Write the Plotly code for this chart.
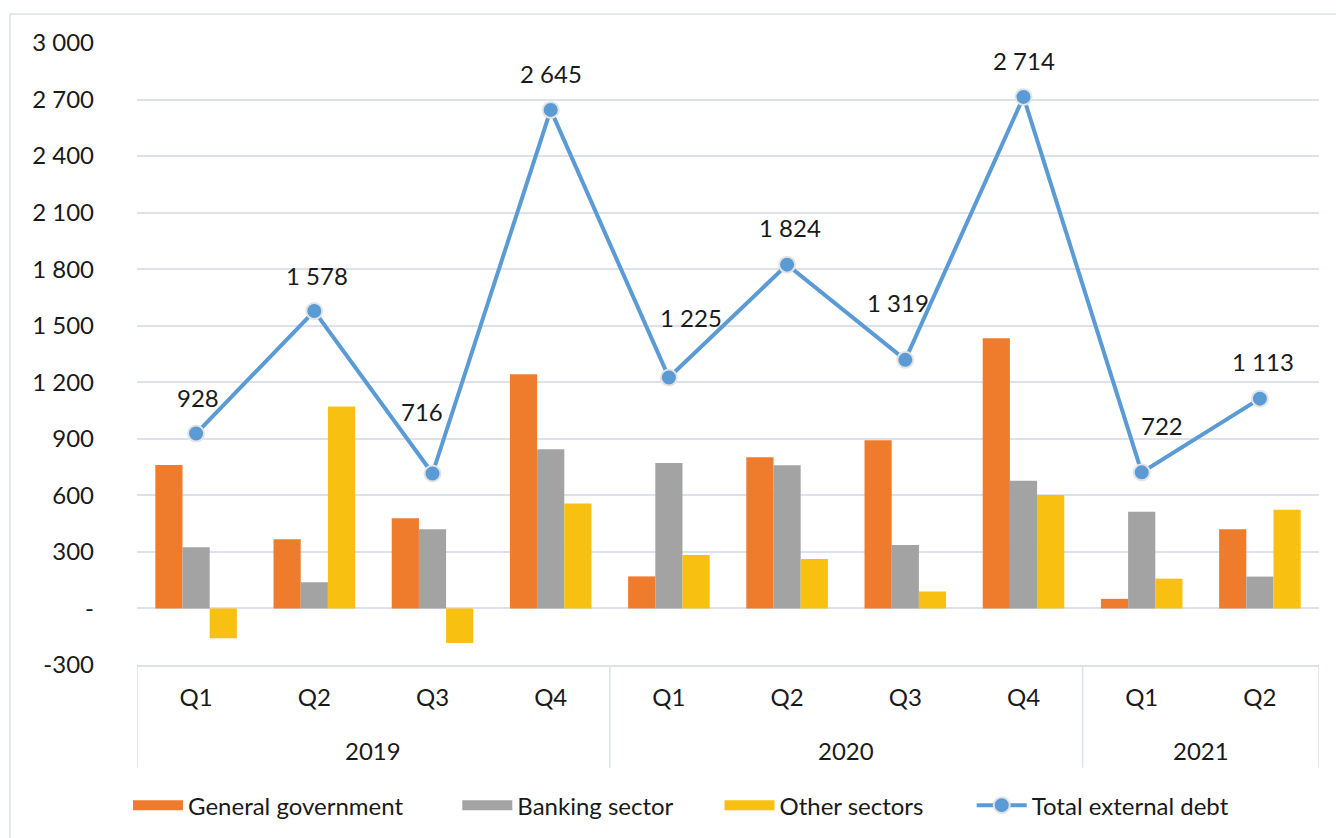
import plotly.graph_objects as go

years = ["2019", "2019", "2019", "2019", "2020", "2020", "2020", "2020", "2021", "2021"]
quarters = ["Q1", "Q2", "Q3", "Q4", "Q1", "Q2", "Q3", "Q4", "Q1", "Q2"]

general_government = [761, 367, 479, 1243, 170, 802, 893, 1434, 51, 420]
banking_sector = [325, 139, 420, 845, 772, 760, 336, 678, 513, 169]
other_sectors = [-158, 1072, -183, 557, 283, 262, 90, 602, 158, 524]
total_external_debt = [928, 1578, 716, 2645, 1225, 1824, 1319, 2714, 722, 1113]
total_labels = ["928", "1 578", "716", "2 645", "1 225", "1 824", "1 319", "2 714", "722", "1 113"]

y_tick_vals = [-300, 0, 300, 600, 900, 1200, 1500, 1800, 2100, 2400, 2700, 3000]
y_tick_text = ["-300", "-", "300", "600", "900", "1 200", "1 500", "1 800", "2 100", "2 400", "2 700", "3 000"]

# label placement offsets (pixels) as in the original chart
label_dx = [2, 3, -11, 0, 22, 3, -7, 0, 20, 3]
label_dy = [36, 36, 62, 36, 60, 37, 57, 36, 47, 37]

FONT = "Lato"
FS = 24
GRID = "#DDE2EA"
COL_GG = "#EF7B2D"
COL_BS = "#A3A3A3"
COL_OS = "#F8C010"
COL_TOT = "#5B9BD5"
TXT = "#1a1a1a"

xpos = list(range(len(quarters)))

fig = go.Figure()
fig.add_trace(go.Bar(x=xpos, y=general_government, name="General government",
                     marker=dict(color=COL_GG, line=dict(width=0)), showlegend=False))
fig.add_trace(go.Bar(x=xpos, y=banking_sector, name="Banking sector",
                     marker=dict(color=COL_BS, line=dict(width=0)), showlegend=False))
fig.add_trace(go.Bar(x=xpos, y=other_sectors, name="Other sectors",
                     marker=dict(color=COL_OS, line=dict(width=0)), showlegend=False))
fig.add_trace(go.Scatter(x=xpos, y=total_external_debt, name="Total external debt",
                         mode="lines+markers",
                         line=dict(color=COL_TOT, width=4),
                         marker=dict(size=16, color=COL_TOT,
                                     line=dict(color="#E3E3E3", width=2)),
                         showlegend=False))

# legend entries, each in its own legend so they can be spaced like the original
legend_specs = [("General government", COL_GG, "legend"),
                ("Banking sector", COL_BS, "legend2"),
                ("Other sectors", COL_OS, "legend3")]
for name, col, lg in legend_specs:
    fig.add_trace(go.Scatter(x=[None], y=[None], mode="lines", name=name, legend=lg,
                             line=dict(color=col, width=16)))
fig.add_trace(go.Scatter(x=[None], y=[None], mode="lines+markers", name="Total external debt",
                         legend="legend4",
                         line=dict(color=COL_TOT, width=4),
                         marker=dict(size=16, color=COL_TOT, line=dict(color="#E3E3E3", width=2))))

for i, (v, lab) in enumerate(zip(total_external_debt, total_labels)):
    fig.add_annotation(x=xpos[i], y=v, text=lab, showarrow=False,
                       xshift=label_dx[i], yshift=label_dy[i],
                       xref="x", yref="y",
                       font=dict(family=FONT, size=FS, color=TXT))

# year group labels and dividers
groups = []
for i, yr in enumerate(years):
    if not groups or groups[-1][0] != yr:
        groups.append([yr, i, i])
    else:
        groups[-1][2] = i
for yr, a, b in groups:
    fig.add_annotation(x=(xpos[a] + xpos[b]) / 2, y=-0.1376, xref="x", yref="paper",
                       text=yr, showarrow=False, yanchor="middle",
                       font=dict(family=FONT, size=FS, color=TXT))
bounds = [groups[0][1] - 0.5] + [g[2] + 0.5 for g in groups]
for bx in bounds:
    fig.add_shape(type="line", xref="x", yref="paper", x0=bx, x1=bx, y0=0, y1=-0.165,
                  line=dict(color=GRID, width=1.5))

# outer chart border
fig.add_shape(type="rect", xref="paper", yref="paper",
              x0=-0.1075, x1=1.02, y0=-0.30, y1=1.0467,
              line=dict(color=GRID, width=1.5), layer="below")

leg_common = dict(orientation="h", xanchor="left", y=-0.226, yanchor="middle",
                  font=dict(family=FONT, size=FS, color=TXT), itemwidth=50,
                  bgcolor="rgba(0,0,0,0)")
fig.update_layout(
    width=1336, height=838,
    margin=dict(l=137, r=17, t=43, b=173, autoexpand=False),
    paper_bgcolor="white", plot_bgcolor="white",
    barmode="group", bargap=0.31, bargroupgap=0,
    font=dict(family=FONT, size=FS, color=TXT),
    showlegend=True,
    legend=dict(x=-0.0076, **leg_common),
    legend2=dict(x=0.271, **leg_common),
    legend3=dict(x=0.4928, **leg_common),
    legend4=dict(x=0.7062, **leg_common),
)
fig.update_yaxes(range=[-300, 3000], tickvals=y_tick_vals, ticktext=y_tick_text,
                 showgrid=True, gridcolor=GRID, gridwidth=1.5,
                 zeroline=True, zerolinecolor=GRID, zerolinewidth=1.5,
                 showline=False, ticks="", ticklabelstandoff=42, automargin=False,
                 tickfont=dict(family=FONT, size=FS))
fig.update_xaxes(range=[-0.5, len(quarters) - 0.5], tickvals=xpos, ticktext=quarters,
                 showline=True, linecolor=GRID, linewidth=1.5, showgrid=False,
                 zeroline=False, ticks="", ticklabelstandoff=10, automargin=False,
                 tickfont=dict(family=FONT, size=FS))

fig.write_html("out.html", post_script="document.body.style.margin='0';",
               config={"displayModeBar": False})
